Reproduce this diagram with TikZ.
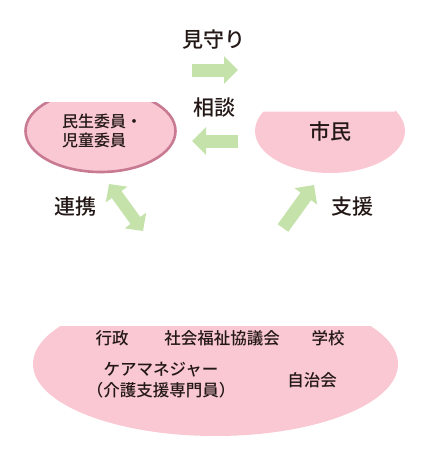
\documentclass[tikz,border=0pt]{standalone}
\usepackage{fontspec}
\setmainfont{Noto Sans CJK JP}
\newfontfamily\jpmed{Noto Sans CJK JP Medium}
\usetikzlibrary{arrows.meta}
\definecolor{pinkfill}{HTML}{F9C8D3}
\definecolor{pinkline}{HTML}{C97A93}
\definecolor{arrowgreen}{HTML}{C4E2AA}
\definecolor{textdark}{HTML}{231815}
\tikzset{
  label text/.style={text=textdark, font=\jpmed\fontsize{21}{24}\selectfont, inner sep=0pt},
  body text/.style={text=textdark, font=\jpmed\fontsize{16.5}{21}\selectfont, inner sep=0pt, align=center},
  fat arrow/.style={draw=arrowgreen, line width=13pt, -{Triangle[width=27pt,length=14pt]}},
  fat double/.style={draw=arrowgreen, line width=12pt, {Triangle[width=26pt,length=13pt]}-{Triangle[width=26pt,length=13pt]}},
}
\begin{document}
\begin{tikzpicture}[x=1pt,y=-1pt]
\useasboundingbox (0,0) rectangle (424,450);
% left ellipse
\begin{scope}
  \clip (0,102) rectangle (424,200);
  \draw[fill=pinkfill, draw=pinkline, line width=2.6pt] (100.5,131) ellipse [x radius=75, y radius=41];
\end{scope}
% right ellipse
\begin{scope}
  \clip (240,111.5) -- (395,111.5) -- (395,110) -- (424,110) -- (424,200) -- (240,200) -- cycle;
  \fill[pinkfill] (330,131) ellipse [x radius=75, y radius=42];
\end{scope}
% bottom ellipse
\begin{scope}
  \clip (0,326) -- (374,326) -- (374,322) -- (424,322) -- (424,450) -- (0,450) -- cycle;
  \fill[pinkfill] (215.5,364) ellipse [x radius=182.5, y radius=72];
\end{scope}
% node texts
\node[text=textdark, font=\jpmed\fontsize{16}{19}\selectfont, inner sep=0pt, align=left] (minsei) at (102,131) {民生委員・\\児童委員};
\node[text=textdark, font=\jpmed\fontsize{21}{24}\selectfont, inner sep=0pt] (shimin) at (330,131) {市民};
\node[body text] (gyosei) at (112,338) {行政};
\node[body text] (shakyo) at (222,338) {社会福祉協議会};
\node[body text] (gakko) at (328,338) {学校};
\node[body text] (care) at (161,380) {ケアマネジャー\\（介護支援専門員）};
\node[body text] (jichi) at (312,380) {自治会};
% labels
\node[label text] (mimamori) at (214,40) {見守り};
\node[label text] (sodan) at (214,108) {相談};
\node[label text] (renkei) at (75,207) {連携};
\node[label text] (shien) at (352,207) {支援};
% arrow ends
\coordinate (a1s) at (192,70);
\coordinate (a1e) at (238,70);
\coordinate (a2s) at (238,141);
\coordinate (a2e) at (192,141);
\coordinate (a3s) at (109,184);
\coordinate (a3e) at (143,231);
\coordinate (a4s) at (283,228);
\coordinate (a4e) at (314,185);
\draw[fat arrow] (a1s) -- (a1e);
\draw[fat arrow] (a2s) -- (a2e);
\draw[fat double] (a3s) -- (a3e);
\draw[fat arrow] (a4s) -- (a4e);
\end{tikzpicture}
\end{document}
